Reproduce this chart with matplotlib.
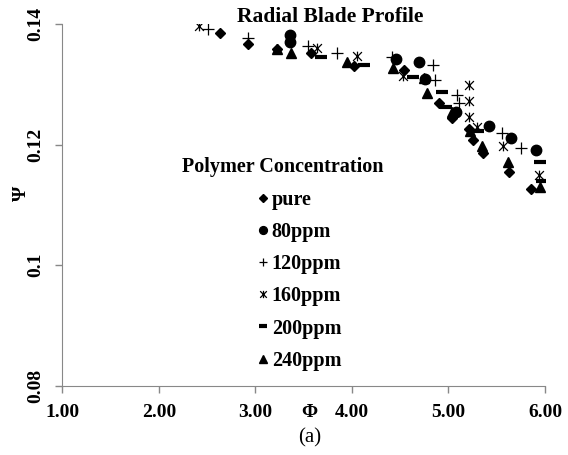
import matplotlib
matplotlib.use('Agg')
import matplotlib.pyplot as plt
from matplotlib.path import Path

plt.rcParams['font.family'] = ['Liberation Serif', 'DejaVu Serif']

# data (Phi, Psi)
pure_x = [2.63, 2.92, 3.22, 3.58, 4.02, 4.54, 4.90, 5.04, 5.21, 5.25, 5.36, 5.63, 5.85]
pure_y = [0.1386, 0.1367, 0.1359, 0.1352, 0.1331, 0.1324, 0.1269, 0.1244, 0.1226, 0.1207, 0.1186, 0.1154, 0.1127]

p80_x = [3.36, 3.36, 4.46, 4.70, 4.76, 5.08, 5.42, 5.65, 5.91]
p80_y = [0.1382, 0.1370, 0.1343, 0.1338, 0.1309, 0.1255, 0.1231, 0.1211, 0.1191]

p120_x = [2.51, 2.92, 3.54, 3.85, 4.41, 4.84, 4.86, 5.09, 5.11, 5.55, 5.75]
p120_y = [0.1392, 0.1377, 0.1364, 0.1352, 0.1345, 0.1332, 0.1308, 0.1283, 0.1269, 0.1219, 0.1195]

p160_x = [2.42, 3.64, 4.05, 4.53, 5.21, 5.21, 5.21, 5.30, 5.57, 5.94]
p160_y = [0.1397, 0.1360, 0.1347, 0.1314, 0.1299, 0.1272, 0.1246, 0.1230, 0.1198, 0.1150]

p200_x = [3.68, 4.12, 4.63, 4.93, 4.97, 5.31, 5.95, 5.97]
p200_y = [0.1345, 0.1332, 0.1312, 0.1288, 0.1263, 0.1222, 0.1171, 0.1139]

p240_x = [3.22, 3.37, 3.95, 4.43, 4.75, 4.78, 5.04, 5.22, 5.35, 5.62, 5.95]
p240_y = [0.1359, 0.1352, 0.1338, 0.1327, 0.1311, 0.1286, 0.1255, 0.1222, 0.1198, 0.1171, 0.1130]

labels = ['pure', '80ppm', '120ppm', '160ppm', '200ppm', '240ppm']
x_ticks = [1, 2, 3, 4, 5, 6]
y_ticks = [0.08, 0.10, 0.12, 0.14]
y_ticklabels = ['0.08', '0.1', '0.12', '0.14']

# excel style star: an x with a vertical bar
star = Path([(-1, -1), (1, 1), (-1, 1), (1, -1), (0, -1.1), (0, 1.1)],
            [Path.MOVETO, Path.LINETO, Path.MOVETO, Path.LINETO, Path.MOVETO, Path.LINETO])

fig = plt.figure(figsize=(5.68, 4.55), dpi=100)
ax = fig.add_axes([0.1097, 0.1527, 0.8498, 0.7939])

ax.plot(pure_x, pure_y, 'D', color='black', ms=5.5, ls='none', label=labels[0])
ax.plot(p80_x, p80_y, 'o', color='black', ms=7.5, ls='none', label=labels[1])
ax.plot(p120_x, p120_y, '+', color='black', ms=8, mew=0.9, ls='none', label=labels[2])
ax.plot(p160_x, p160_y, marker=star, color='black', ms=7, mew=0.9, ls='none', label=labels[3])
ax.plot(p200_x, p200_y, '_', color='black', ms=8, mew=3, ls='none', label=labels[4])
ax.plot(p240_x, p240_y, '^', color='black', ms=7.5, ls='none', label=labels[5])

ax.set_xlim(1, 6)
ax.set_ylim(0.08, 0.14)
ax.set_xticks(x_ticks)
ax.set_xticklabels(['%.2f' % v for v in x_ticks], fontsize=14, fontweight='bold')
ax.set_yticks(y_ticks)
ax.set_yticklabels(y_ticklabels, fontsize=14, fontweight='bold', rotation=90, va='center')

for s in ['top', 'right']:
    ax.spines[s].set_visible(False)
for s in ['left', 'bottom']:
    ax.spines[s].set_color('#888888')
ax.tick_params(direction='out', length=5, color='#888888', width=1)
ax.tick_params(axis='x', pad=8.5)
ax.tick_params(axis='y', pad=8)

fig.text(0.581, 0.963, 'Radial Blade Profile', ha='center', va='center',
         fontsize=15.5, fontweight='bold')
fig.text(0.545, 0.094, 'Φ', ha='center', va='center', fontsize=14, fontweight='bold')
fig.text(0.545, 0.038, '(a)', ha='center', va='center', fontsize=15)
fig.text(0.037, 0.574, 'Ψ', ha='center', va='center', fontsize=14, fontweight='bold', rotation=90)

fig.text(0.498, 0.634, 'Polymer Concentration', ha='center', va='center',
         fontsize=14.5, fontweight='bold')
ax.legend(loc='upper left', bbox_to_anchor=(0.452, 0.582), bbox_transform=fig.transFigure,
          frameon=False, prop={'weight': 'bold', 'size': 14.5}, borderpad=0, borderaxespad=0,
          handlelength=0.6, handletextpad=0.15, labelspacing=0.6, markerscale=0.75)

fig.savefig('out.png', dpi=100)
